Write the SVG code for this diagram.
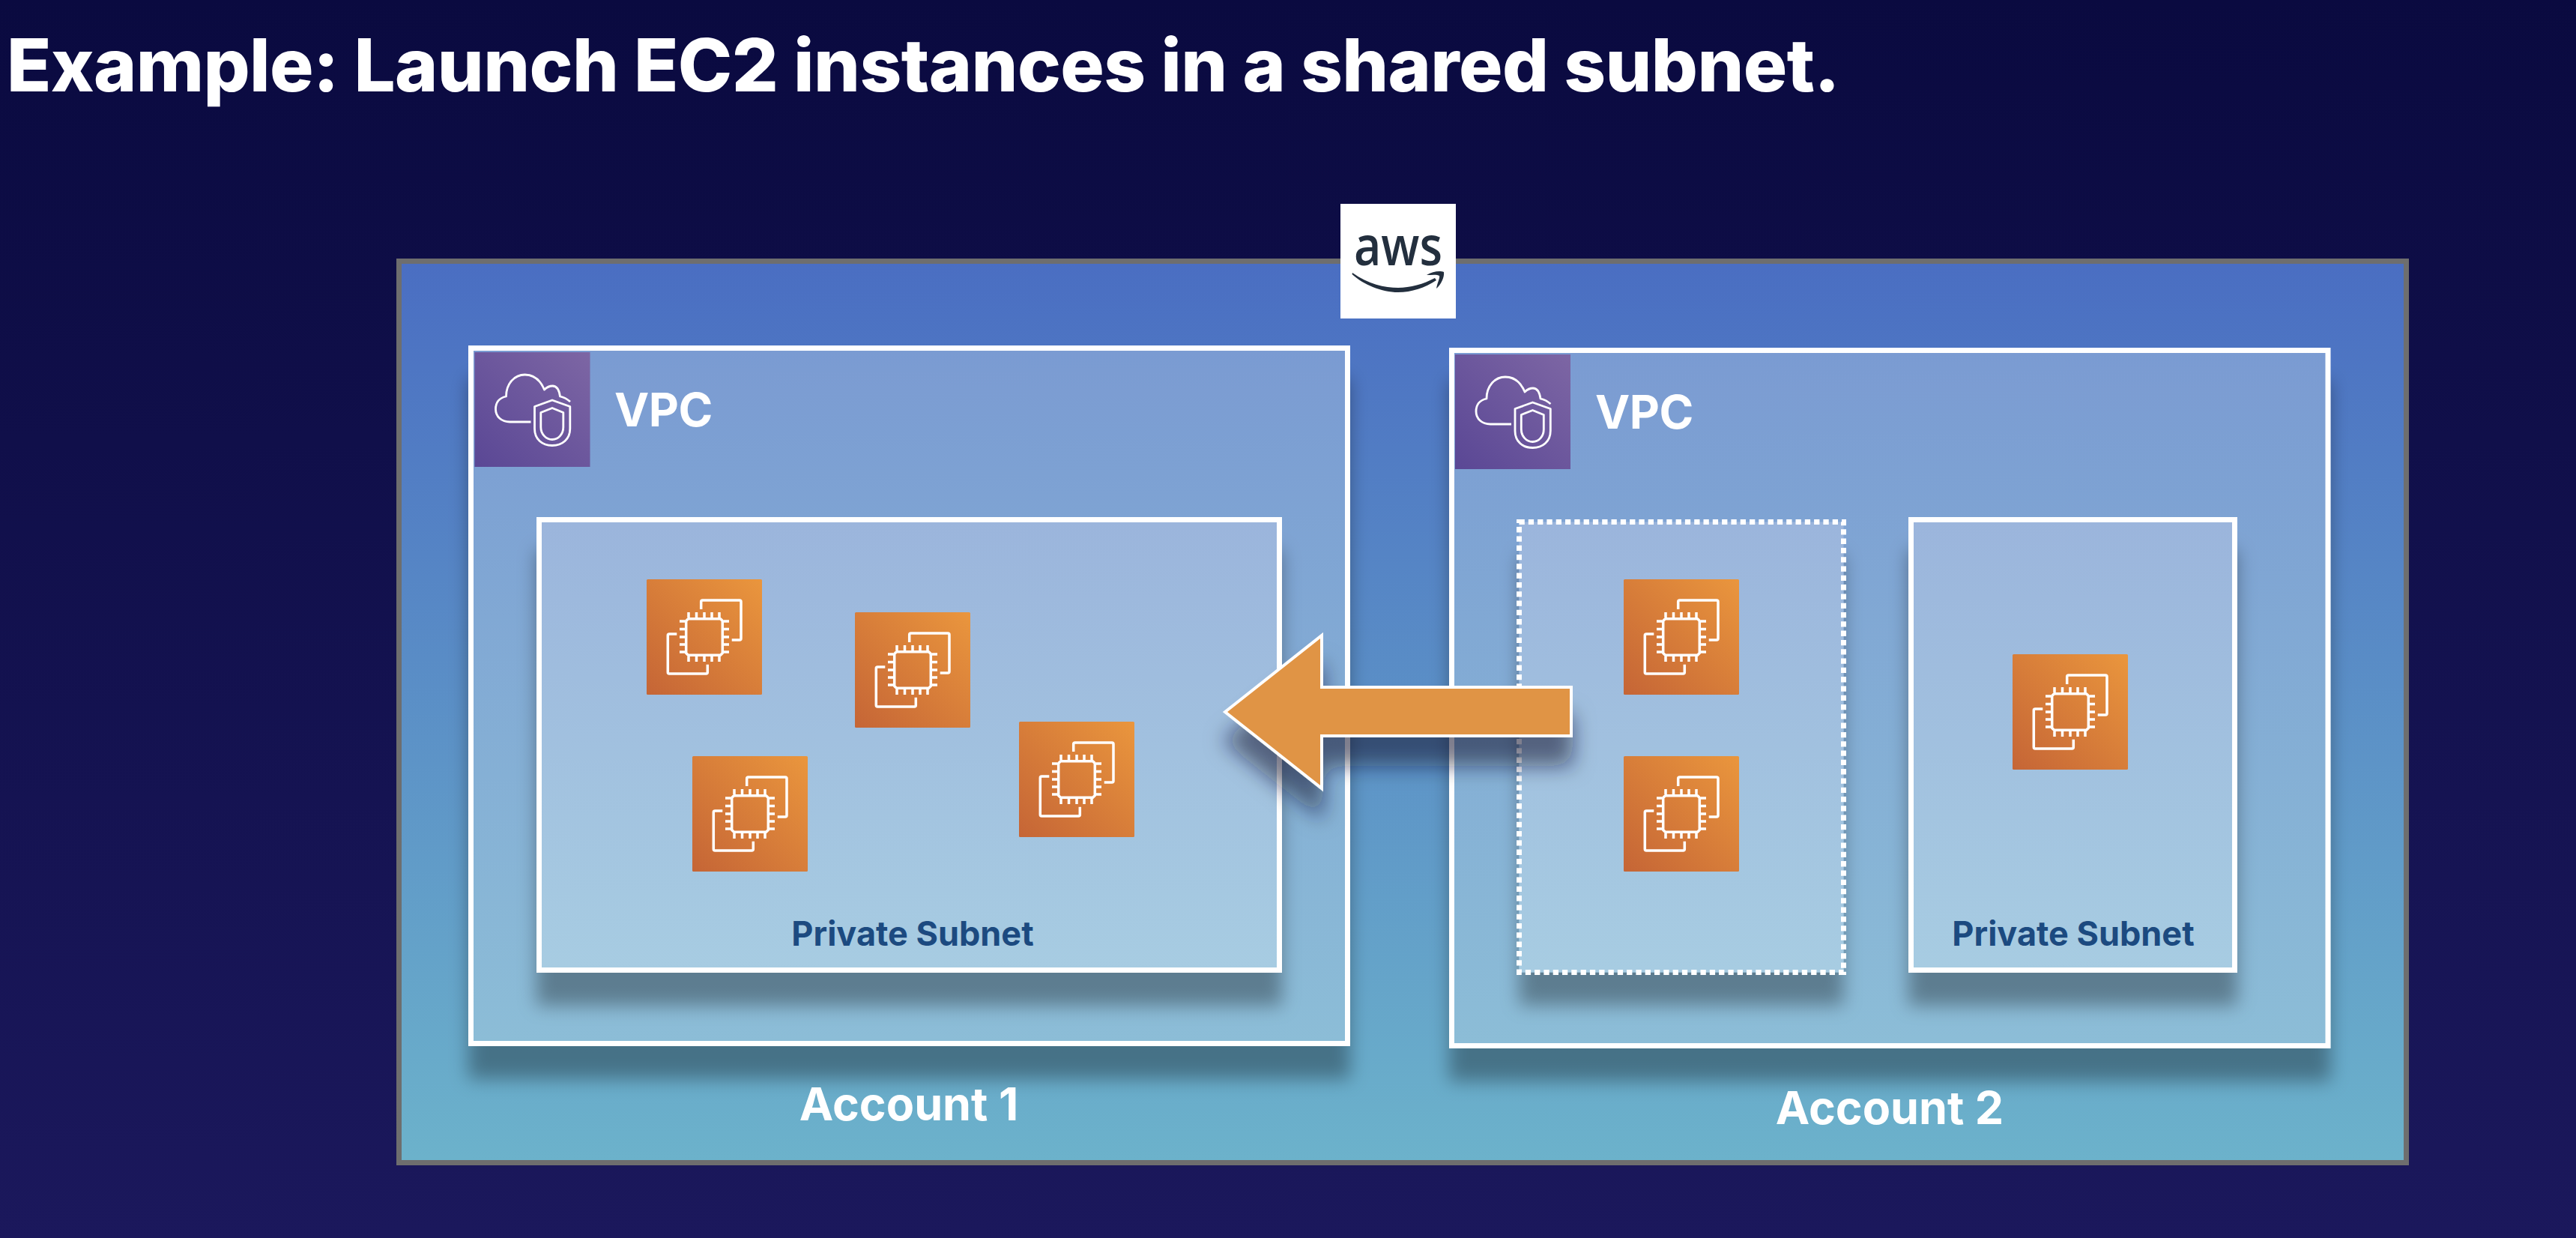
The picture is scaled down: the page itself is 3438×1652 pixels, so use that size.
<svg xmlns="http://www.w3.org/2000/svg" width="3438" height="1652" viewBox="0 0 3438 1652">
<style>
text{font-family:Inter,"Liberation Sans",sans-serif}
.title{font-size:97.5px;font-weight:800;letter-spacing:-.6px;fill:#fff}
.vpc{font-size:62px;font-weight:700;letter-spacing:-.5px;fill:#fff}
.acct{font-size:61px;font-weight:700;fill:#fff;text-anchor:middle}
.sub{font-size:45px;font-weight:700;fill:#1c4a80;text-anchor:middle}
.vpcbox{fill:url(#gVpc);stroke:#fff;stroke-width:7;filter:url(#sh)}
.subbox{fill:url(#gSub);stroke:#fff;stroke-width:7;filter:url(#sh)}
.line{fill:none;stroke:#fff;stroke-width:3.5;stroke-linejoin:round}
.thin{fill:none;stroke:#fff;stroke-width:2.8;stroke-linejoin:round;stroke-linecap:butt}
</style>
<defs>
<linearGradient id="gBg" gradientUnits="userSpaceOnUse" x1="0" y1="0" x2="0" y2="1652"><stop offset="0" stop-color="#0a0a40"/><stop offset="1" stop-color="#1b185c"/></linearGradient>
<linearGradient id="gOuter" gradientUnits="userSpaceOnUse" x1="0" y1="352" x2="0" y2="1548"><stop offset="0" stop-color="#4a6ec2"/><stop offset="1" stop-color="#6cb2cb"/></linearGradient>
<linearGradient id="gVpc" gradientUnits="userSpaceOnUse" x1="0" y1="468" x2="0" y2="1392"><stop offset="0" stop-color="#7a9bd2"/><stop offset="1" stop-color="#8cbdd7"/></linearGradient>
<linearGradient id="gSub" gradientUnits="userSpaceOnUse" x1="0" y1="697" x2="0" y2="1291"><stop offset="0" stop-color="#9bb5dc"/><stop offset="1" stop-color="#a7cce2"/></linearGradient>
<linearGradient id="gEc2" x1="0" y1="1" x2="1" y2="0"><stop offset="0" stop-color="#c56536"/><stop offset="1" stop-color="#ea963d"/></linearGradient>
<linearGradient id="gShield" x1="0" y1="1" x2="1" y2="0"><stop offset="0" stop-color="#5a4795"/><stop offset="1" stop-color="#7d66a4"/></linearGradient>
<filter id="sh" x="-10%" y="-10%" width="120%" height="125%"><feDropShadow dx="0" dy="44" stdDeviation="12" flood-color="#000" flood-opacity=".33"/></filter>
<filter id="shA" x="-10%" y="-20%" width="120%" height="160%"><feDropShadow dx="0" dy="38" stdDeviation="14" flood-color="#0a0a30" flood-opacity=".55"/></filter>
<g id="ec2">
<rect width="154" height="154" rx="1.5" fill="url(#gEc2)"/>
<path class="line" d="M72.7 40V30Q72.7 28 74.7 28H124Q126 28 126 30V79Q126 81 124 81H113.7"/>
<path class="line" d="M40.3 73H30.3Q28.3 73 28.3 75V124Q28.3 126 30.3 126H79.3Q81.3 126 81.3 124V113.7"/>
<path class="line" d="M55.5 52.7H98.5L101.3 55.5V98.5L98.5 101.3H55.5L52.7 98.5V55.5Z"/>
<path class="line" d="M56 44V51M66.5 44V51M77 44V51M87 44V51M97 44V51M56 103V110M66.5 103V110M77 103V110M87 103V110M97 103V110M44 56H51M44 66.5H51M44 77H51M44 87H51M44 97H51M103 56H110M103 66.5H110M103 77H110M103 87H110M103 97H110"/>
</g>
<g id="vpcicon">
<rect width="154" height="153" fill="url(#gShield)"/>
<path class="thin" d="M75 93H47C36 93 28 86 28 76C28 67 33 61 42 59C42 42 53 30 67 30C79 30 88 38 93 50C97 46 101 45 104 45C110 45 113 52 114 59C119 60 124 63 127.5 66"/>
<path class="thin" d="M103.5 64L127.3 72.5V102C127.3 116 117 124.5 103.5 124.5C90 124.5 80 116 80 102V72.5Z"/>
<path class="thin" d="M103.5 74.5L118.3 80.5V100C118.3 109 112 116.5 103.5 116.5C95 116.5 88.3 109 88.3 100V80.5Z"/>
</g>
</defs>
<rect id="background" width="3438" height="1652" fill="url(#gBg)"/>
<text class="title" x="9" y="122">Example: Launch EC2 instances in a shared subnet.</text>
<g id="aws-cloud">
<rect x="532.5" y="348.5" width="2679" height="1203" fill="url(#gOuter)" stroke="#6e6e6e" stroke-width="7"/>
</g>
<g id="aws-logo">
<rect x="1789" y="272" width="154" height="153" fill="#fff"/>
<text x="1866" y="354" font-size="72" font-weight="600" text-anchor="middle" textLength="118" lengthAdjust="spacingAndGlyphs" fill="#232f3e" style="font-family:'Open Sans',sans-serif">aws</text>
<path fill="#232f3e" d="M1805 364C1826 379 1848 384 1866 384C1882 384 1900 379 1915 371L1917 374C1902 384 1884 390 1866 390C1844 390 1820 380 1804.500 366Z"/>
<path fill="#232f3e" d="M1904 367C1912 362 1922 361 1927 363C1928 370 1923 380 1917 385C1918 378 1922 371 1921 368C1918 366 1911 367 1904 367Z"/>
</g>
<g id="vpc-1">
<rect class="vpcbox" x="628.500" y="464.500" width="1170" height="928"/>
<use href="#vpcicon" x="633.500" y="470"/>
<text class="vpc" x="820" y="569">VPC</text>
</g>
<g id="vpc-2">
<rect class="vpcbox" x="1937.500" y="467.500" width="1169.500" height="928"/>
<use href="#vpcicon" x="1942" y="473"/>
<text class="vpc" x="2129" y="572">VPC</text>
</g>
<g id="subnet-1">
<rect class="subbox" x="719.500" y="693.500" width="988" height="601"/>
<text class="sub" x="1218" y="1262">Private Subnet</text>
</g>
<g id="subnet-shared">
<rect x="2027.500" y="696.500" width="433" height="601" fill="url(#gSub)" filter="url(#sh)"/>
<rect x="2027.500" y="696.500" width="433" height="601" fill="none" stroke="#fff" stroke-width="7" stroke-dasharray="7.300 5"/>
</g>
<g id="subnet-2">
<rect class="subbox" x="2550.500" y="693.500" width="432" height="601"/>
<text class="sub" x="2767" y="1262">Private Subnet</text>
</g>
<g id="ec2-1"><use href="#ec2" x="863" y="773"/></g>
<g id="ec2-2"><use href="#ec2" x="1141" y="817"/></g>
<g id="ec2-3"><use href="#ec2" x="924" y="1009"/></g>
<g id="ec2-4"><use href="#ec2" x="1360" y="963"/></g>
<g id="ec2-5"><use href="#ec2" x="2167" y="773"/></g>
<g id="ec2-6"><use href="#ec2" x="2167" y="1009"/></g>
<g id="ec2-7"><use href="#ec2" x="2686" y="873"/></g>
<text class="acct" x="1213" y="1495">Account 1</text>
<text class="acct" x="2522" y="1500">Account 2</text>
<g id="connectors">
<path d="M1635 950L1764 848V917H2097V982H1764V1052Z" fill="#e09444" stroke="#fff" stroke-width="4" filter="url(#shA)"/>
</g>
</svg>
